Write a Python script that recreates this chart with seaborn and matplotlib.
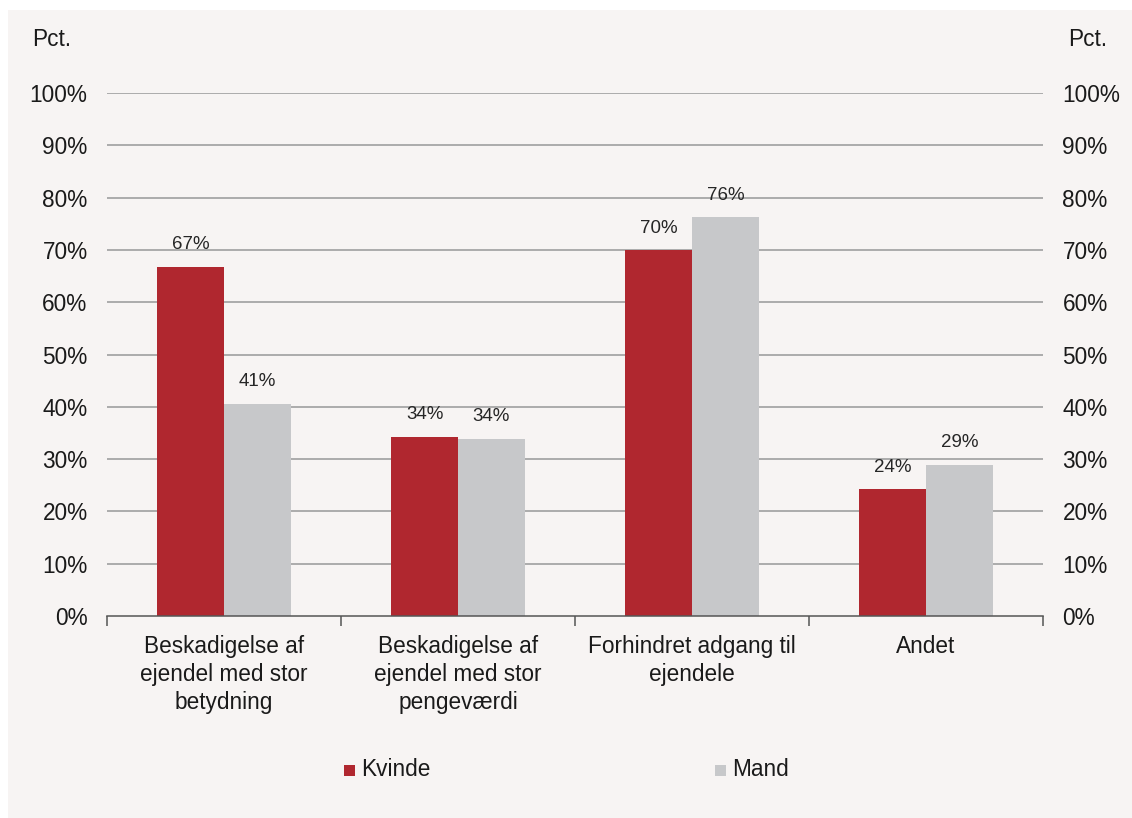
import matplotlib
matplotlib.use("Agg")
import matplotlib.pyplot as plt
import seaborn as sns
import pandas as pd
from matplotlib.patches import Rectangle
from matplotlib.ticker import FixedLocator

categories = ["Beskadigelse af\nejendel med stor\nbetydning",
              "Beskadigelse af\nejendel med stor\npengeværdi",
              "Forhindret adgang til\nejendele",
              "Andet"]
series = ["Kvinde", "Mand"]
kvinde = [66.7, 34.3, 69.9, 24.2]
mand = [40.6, 33.8, 76.2, 28.9]
yticks = [0, 10, 20, 30, 40, 50, 60, 70, 80, 90, 100]
colors = ["#b0272f", "#c7c8ca"]

df = pd.DataFrame({
    "cat": categories * 2,
    "serie": [series[0]] * 4 + [series[1]] * 4,
    "val": kvinde + mand,
})

sns.set_theme(style="white")
plt.rcParams["font.family"] = ["Liberation Sans", "DejaVu Sans"]

W, H = 1132, 818
fig = plt.figure(figsize=(W / 100, H / 100), dpi=100, facecolor="white")
bg = "#f7f4f3"
fig.patches.append(Rectangle((8 / W, 0), 1 - 8 / W, 1 - 10 / H, transform=fig.transFigure,
                             facecolor=bg, edgecolor="none", zorder=-10))

ax = fig.add_axes([107 / W, 1 - 616 / H, (1043 - 107) / W, (616 - 93) / H])
ax.set_facecolor(bg)

sns.barplot(data=df, x="cat", y="val", hue="serie", palette=colors, width=0.57,
            saturation=1, ax=ax, legend=False, zorder=3, linewidth=0)

ax.set_ylim(0, 100)
ax.set_xlim(-0.5, 3.5)
ax.set_yticks(yticks)
ax.set_yticklabels([f"{t}%" for t in yticks], fontsize=16.3, color="#1a1a1a")
for t in yticks[1:]:
    ax.axhline(t, color="#9f9f9f", lw=1.2, zorder=1)

ax.tick_params(axis="y", length=0, pad=14)
ax.set_xlabel("")
ax.set_ylabel("")
for s in ["left", "right", "top"]:
    ax.spines[s].set_visible(False)
ax.spines["bottom"].set_color("#555555")
ax.spines["bottom"].set_linewidth(1.1)
ax.spines["bottom"].set_zorder(4)

ax.set_xticks(range(4))
ax.set_xticklabels(categories, fontsize=16.3, color="#1a1a1a", linespacing=1.27)
ax.tick_params(axis="x", which="major", length=0, pad=14)
ax.xaxis.set_minor_locator(FixedLocator([-0.5, 0.5, 1.5, 2.5, 3.5]))
ax.tick_params(axis="x", which="minor", length=7, width=1.1, color="#555555", direction="out", bottom=True)

# right axis labels
ax2 = ax.twinx()
ax2.set_ylim(0, 100)
ax2.set_yticks(yticks)
ax2.set_yticklabels([f"{t}%" for t in yticks], fontsize=16.3, color="#1a1a1a")
ax2.tick_params(axis="y", length=0, pad=14)
for s in ax2.spines.values():
    s.set_visible(False)

# value labels
for cont in ax.containers:
    for bar in cont:
        h = bar.get_height()
        ax.annotate(f"{round(h)}%", (bar.get_x() + bar.get_width() / 2, h),
                    xytext=(0, 10), textcoords="offset points", ha="center", va="bottom",
                    fontsize=13.5, color="#262626")

fig.text(52 / W, 1 - 40 / H, "Pct.", fontsize=16.3, ha="center", va="center", color="#1a1a1a")
fig.text(1088 / W, 1 - 40 / H, "Pct.", fontsize=16.3, ha="center", va="center", color="#1a1a1a")

# legend
ly = 1 - 770 / H
for x0, lab, c in [(344, series[0], colors[0]), (715, series[1], colors[1])]:
    fig.patches.append(Rectangle((x0 / W, ly - 5.5 / H), 11 / W, 11 / H, transform=fig.transFigure,
                                 facecolor=c, edgecolor="none"))
    fig.text((x0 + 17) / W, ly, lab, fontsize=16.3, ha="left", va="center", color="#1a1a1a")

fig.savefig("out.png", dpi=100, facecolor=fig.get_facecolor())
